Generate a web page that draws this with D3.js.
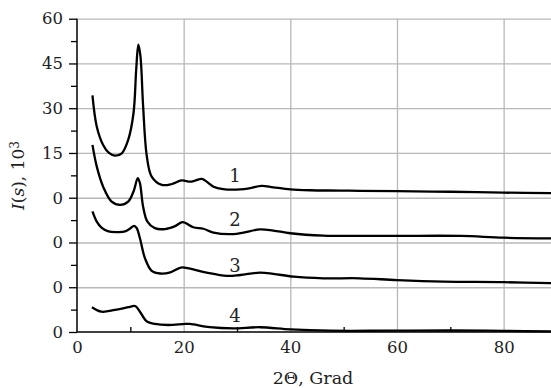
<!DOCTYPE html>
<html>
<head>
<meta charset="utf-8">
<script src="https://cdn.jsdelivr.net/npm/d3@7"></script>
<style>
  html, body { margin: 0; padding: 0; background: #fff; }
  svg { display: block; }
  text { font-family: "DejaVu Serif", "Liberation Serif", serif; fill: #222; }
</style>
</head>
<body>
<svg id="chart" width="551" height="388"></svg>
<script>
// Diffraction intensity I(s) vs 2Θ for four samples, stacked with vertical offsets.
const seriesNames = ["1", "2", "3", "4"];
const seriesOffsets = [45, 30, 15, 0];          // baseline of each curve on the shared axis
const labelLift = [5.3, 5.6, 5.1, 3.3];          // label height above its curve's baseline
const labelAt2Theta = 29.6;

const curve1 = [
  [2.9, 34.3], [3.7, 23.9], [4.9, 17.7], [6.0, 15.0], [7.1, 14.1], [8.4, 14.9],
  [9.6, 19.4], [10.6, 28.4], [11.1, 42.9], [11.5, 51.3], [11.9, 47.4], [12.4, 30.6],
  [13.1, 13.8], [14.0, 7.1], [15.9, 4.3], [17.8, 4.6], [19.6, 5.8], [21.2, 5.4],
  [22.1, 5.7], [23.4, 6.3], [24.3, 5.4], [25.6, 3.7], [27.4, 2.9], [30.6, 2.8],
  [32.4, 3.2], [34.6, 4.0], [36.8, 3.5], [40.0, 2.8], [43.7, 2.5], [49.3, 2.4],
  [53.0, 2.3], [60.0, 2.2], [70.0, 2.0], [80.0, 1.7], [90.0, 1.5]
];
const curve2 = [
  [2.9, 32.7], [3.7, 25.5], [4.9, 18.7], [6.5, 13.7], [8.1, 12.6], [9.6, 13.7],
  [10.6, 17.1], [11.4, 21.6], [11.8, 19.9], [12.4, 12.0], [13.2, 7.0], [14.6, 4.8],
  [16.5, 4.5], [18.4, 5.5], [19.8, 6.8], [21.8, 5.1], [23.7, 4.6], [25.6, 3.3],
  [29.3, 2.8], [31.2, 3.3], [34.3, 4.4], [36.8, 4.0], [40.0, 3.1], [46.2, 2.3],
  [53.0, 2.2], [60.0, 2.2], [72.0, 2.2], [80.0, 1.6], [90.0, 1.4]
];
const curve3 = [
  [2.9, 25.4], [3.7, 22.0], [4.6, 20.0], [5.9, 18.7], [7.75, 18.5], [9.0, 18.7],
  [9.9, 19.6], [10.7, 20.6], [11.2, 19.8], [11.8, 16.4], [12.75, 9.7], [14.0, 5.5],
  [15.6, 4.6], [17.5, 5.0], [19.5, 6.6], [21.2, 6.2], [24.3, 4.9], [28.1, 3.8],
  [30.6, 4.1], [34.3, 4.9], [36.8, 4.5], [40.6, 3.55], [46.2, 3.0], [53.0, 3.0],
  [60.0, 2.4], [68.7, 1.9], [80.0, 1.7], [90.0, 1.3]
];
const curve4 = [
  [2.8, 8.3], [4.6, 6.8], [7.1, 7.4], [9.6, 8.3], [10.9, 8.7], [11.8, 6.8],
  [13.1, 3.5], [14.6, 2.7], [17.1, 2.35], [20.25, 2.7], [21.2, 2.7], [24.9, 1.6],
  [29.3, 1.2], [34.3, 1.6], [40.0, 0.9], [47.4, 0.45], [58.7, 0.45], [70.0, 0.5],
  [80.0, 0.4], [90.0, 0.2]
];
const seriesValues = [curve1, curve2, curve3, curve4];

const xTicks = [0, 20, 40, 60, 80];
const xMinorTicks = [10, 30, 50, 70, 90];
const yTicks = [0, 15, 30, 45, 60, 75, 90, 105];
const yTickLabels = ["0", "0", "0", "0", "15", "30", "45", "60"];
const yMinorTicks = [7.5, 22.5, 37.5, 52.5, 67.5, 82.5, 97.5];

const svg = d3.select("#chart");
const plotLeft = 77, plotBottom = 332, plotTop = 18.7;
const x = d3.scaleLinear().domain([0, 90]).range([plotLeft, plotLeft + 90 * 5.333]);
const y = d3.scaleLinear().domain([0, 105]).range([plotBottom, plotTop]);
const plotRight = x(90);

// grid
const grid = svg.append("g");
grid.append("g")
  .attr("transform", `translate(${plotLeft},0)`)
  .call(d3.axisLeft(y).tickValues(yTicks.slice(1)).tickSize(-(plotRight - plotLeft)).tickFormat(""))
  .call(g => g.select(".domain").remove())
  .call(g => g.selectAll("line").attr("stroke", "#b8b8b8").attr("stroke-width", 1.3));
grid.append("g")
  .attr("transform", `translate(0,${plotBottom})`)
  .call(d3.axisBottom(x).tickValues(xTicks.slice(1)).tickSize(-(plotBottom - plotTop)).tickFormat(""))
  .call(g => g.select(".domain").remove())
  .call(g => g.selectAll("line").attr("stroke", "#b8b8b8").attr("stroke-width", 1.3));

// curves
const line = d3.line()
  .x(d => x(d[0]))
  .y(d => y(d[1]))
  .curve(d3.curveCatmullRom.alpha(0.5));

seriesValues.forEach((vals, i) => {
  svg.append("path")
    .datum(vals.map(([t, v]) => [t, v + seriesOffsets[i]]))
    .attr("fill", "none")
    .attr("stroke", "#000")
    .attr("stroke-width", 2.3)
    .attr("stroke-linejoin", "round")
    .attr("d", line);
  svg.append("text")
    .attr("x", x(labelAt2Theta))
    .attr("y", y(seriesOffsets[i] + labelLift[i]))
    .attr("text-anchor", "middle")
    .style("font-size", "18px")
    .text(seriesNames[i]);
});

// y axis
svg.append("g").attr("transform", `translate(${plotLeft},0)`)
  .call(d3.axisLeft(y).tickValues(yTicks).tickSize(8).tickPadding(6)
    .tickFormat((d, i) => yTickLabels[i]))
  .call(g => g.select(".domain").attr("d", `M0,${plotBottom}V${plotTop}`).attr("stroke-width", 1.5))
  .call(g => g.selectAll(".tick line").attr("stroke-width", 1.3))
  .call(g => g.selectAll(".tick text").style("font-size", "16.5px")
    .style("font-family", "DejaVu Serif, serif").attr("fill", "#222"));
svg.append("g").attr("transform", `translate(${plotLeft},0)`)
  .call(d3.axisLeft(y).tickValues(yMinorTicks).tickSize(6).tickFormat(""))
  .call(g => g.select(".domain").remove())
  .call(g => g.selectAll(".tick line").attr("stroke-width", 1.3));

// x axis
svg.append("g").attr("transform", `translate(0,${plotBottom})`)
  .call(d3.axisBottom(x).tickValues(xTicks).tickSize(0).tickPadding(9))
  .call(g => g.select(".domain").attr("d", `M${plotLeft},0H${plotRight}`).attr("stroke-width", 1.5))
  .call(g => g.selectAll(".tick text").style("font-size", "16.5px")
    .style("font-family", "DejaVu Serif, serif").attr("fill", "#222"));
svg.append("g").attr("transform", `translate(0,${plotBottom})`)
  .call(d3.axisBottom(x).tickValues(xMinorTicks).tickSize(-5).tickFormat(""))
  .call(g => g.select(".domain").remove())
  .call(g => g.selectAll(".tick line").attr("stroke-width", 1.3));

// axis titles
svg.append("text")
  .attr("x", 313).attr("y", 384)
  .attr("text-anchor", "middle")
  .style("font-size", "17.5px")
  .text("2Θ, Grad");

const yTitle = svg.append("text")
  .attr("transform", "translate(24,175.5) rotate(-90)")
  .attr("text-anchor", "middle")
  .style("font-size", "17px");
yTitle.append("tspan").style("font-style", "italic").text("I");
yTitle.append("tspan").text("(");
yTitle.append("tspan").style("font-style", "italic").text("s");
yTitle.append("tspan").text("), 10");
yTitle.append("tspan").attr("dy", "-0.45em").style("font-size", "12px").text("3");
</script>
</body>
</html>
